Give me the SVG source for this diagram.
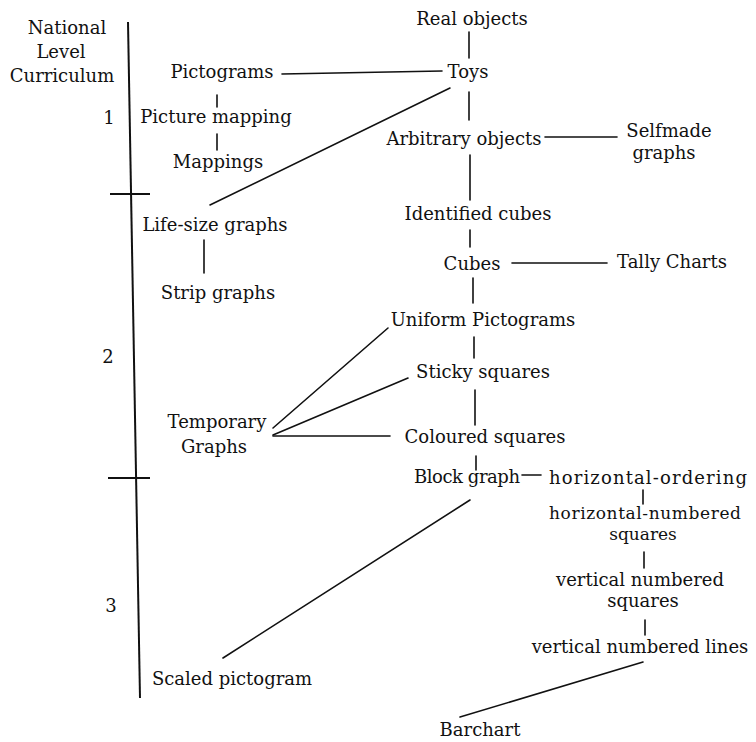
<svg xmlns="http://www.w3.org/2000/svg" width="756" height="742" viewBox="0 0 756 742">
<style>
text{font-family:"DejaVu Serif","Liberation Serif",serif;font-size:18px;fill:#111;text-anchor:middle}
.sm{font-size:17px}
.c line{stroke:#111;stroke-width:1.6;stroke-linecap:round}
.ax line{stroke:#111;stroke-width:2}
</style>
<rect width="756" height="742" fill="#fff"/>
<g id="axis" class="ax">
<line x1="128" y1="22" x2="140" y2="698"/>
<line x1="110" y1="194" x2="150" y2="194"/>
<line x1="108" y1="478" x2="150" y2="478"/>
</g>
<g id="axis-labels">
<text x="67" y="34">National</text>
<text x="61" y="58">Level</text>
<text x="62" y="82">Curriculum</text>
<text x="109" y="124">1</text>
<text x="108" y="363">2</text>
<text x="111" y="612">3</text>
</g>
<g id="connectors" class="c">
<line x1="469" y1="32" x2="469" y2="58"/>
<line x1="282" y1="74" x2="442" y2="71"/>
<line x1="469" y1="92" x2="469" y2="120"/>
<line x1="450" y1="88" x2="210" y2="205"/>
<line x1="217" y1="95" x2="217" y2="107"/>
<line x1="217" y1="134" x2="217" y2="150"/>
<line x1="545" y1="137" x2="617" y2="137"/>
<line x1="470" y1="155" x2="470" y2="200"/>
<line x1="470" y1="230" x2="470" y2="247"/>
<line x1="204" y1="240" x2="204" y2="273"/>
<line x1="512" y1="263" x2="607" y2="263"/>
<line x1="473" y1="278" x2="473" y2="303"/>
<line x1="474" y1="337" x2="474" y2="358"/>
<line x1="475" y1="390" x2="475" y2="425"/>
<line x1="273" y1="428" x2="388" y2="328"/>
<line x1="273" y1="435" x2="408" y2="378"/>
<line x1="273" y1="436" x2="390" y2="436"/>
<line x1="476" y1="456" x2="476" y2="470"/>
<line x1="522" y1="475" x2="541" y2="475"/>
<line x1="470" y1="500" x2="223" y2="658"/>
<line x1="643" y1="490" x2="643" y2="504"/>
<line x1="644" y1="552" x2="644" y2="568"/>
<line x1="645" y1="620" x2="645" y2="635"/>
<line x1="643" y1="662" x2="460" y2="717"/>
</g>
<g id="real-objects"><text x="472" y="25">Real objects</text></g>
<g id="toys"><text x="468" y="78">Toys</text></g>
<g id="pictograms"><text x="222" y="78">Pictograms</text></g>
<g id="picture-mapping"><text x="216" y="123">Picture mapping</text></g>
<g id="mappings"><text x="218" y="168">Mappings</text></g>
<g id="arbitrary-objects"><text x="464" y="145">Arbitrary objects</text></g>
<g id="selfmade-graphs"><text x="669" y="137">Selfmade</text><text x="664" y="159">graphs</text></g>
<g id="identified-cubes"><text x="478" y="220">Identified cubes</text></g>
<g id="life-size-graphs"><text x="215" y="231">Life-size graphs</text></g>
<g id="strip-graphs"><text x="218" y="299">Strip graphs</text></g>
<g id="cubes"><text x="472" y="270">Cubes</text></g>
<g id="tally-charts"><text x="672" y="268">Tally Charts</text></g>
<g id="uniform-pictograms"><text x="483" y="326">Uniform Pictograms</text></g>
<g id="sticky-squares"><text x="483" y="378">Sticky squares</text></g>
<g id="temporary-graphs"><text x="217" y="428">Temporary</text><text x="214" y="453">Graphs</text></g>
<g id="coloured-squares"><text x="485" y="443">Coloured squares</text></g>
<g id="block-graph"><text x="467" y="483" textLength="106" lengthAdjust="spacing">Block graph</text></g>
<g id="horizontal-ordering"><text x="648" y="484" textLength="198" lengthAdjust="spacing">horizontal-ordering</text></g>
<g id="horizontal-numbered-squares"><text class="sm" x="645" y="519" textLength="192" lengthAdjust="spacing">horizontal-numbered</text><text class="sm" x="643" y="540">squares</text></g>
<g id="vertical-numbered-squares"><text x="640" y="586">vertical numbered</text><text x="643" y="607">squares</text></g>
<g id="vertical-numbered-lines"><text x="640" y="653">vertical numbered lines</text></g>
<g id="scaled-pictogram"><text x="232" y="685">Scaled pictogram</text></g>
<g id="barchart"><text x="480" y="736">Barchart</text></g>
</svg>
